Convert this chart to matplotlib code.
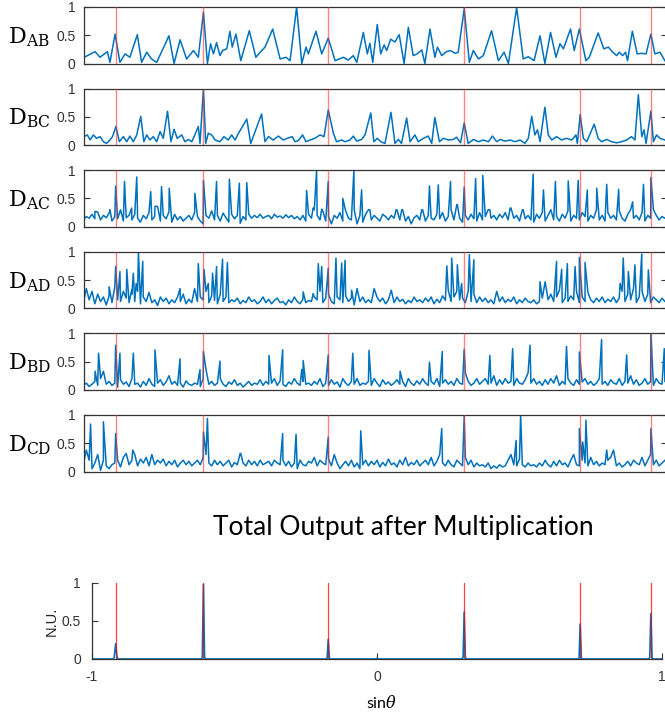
"""
Direction-finding panels: pairwise correlations D_xy and their product
"""
import numpy as np
import matplotlib.pyplot as plt

plt.rcParams['mathtext.fontset'] = 'dejavuserif'

# ---- data ----
source_sin = [-0.917, -0.609, -0.171, 0.306, 0.713, 0.961]
pair_names = ['AB', 'BC', 'AC', 'AD', 'BD', 'CD']

# smooth panels: peaks and troughs of the traces
ab_x = [-1.028, -1.016, -0.989, -0.972, -0.946, -0.937, -0.919, -0.902, -0.884, -0.867,
        -0.841, -0.826, -0.808, -0.791, -0.773, -0.762, -0.730, -0.712, -0.691, -0.668,
        -0.644, -0.627, -0.609, -0.595, -0.584, -0.574, -0.563, -0.551, -0.542, -0.527,
        -0.516, -0.508, -0.495, -0.478, -0.448, -0.425, -0.410, -0.393, -0.366, -0.340,
        -0.319, -0.305, -0.282, -0.264, -0.249, -0.241, -0.233, -0.214, -0.194, -0.171,
        -0.147, -0.118, -0.101, -0.083, -0.071, -0.048, -0.034, -0.025, -0.015, 0.001,
        0.013, 0.025, 0.034, 0.048, 0.063, 0.078, 0.095, 0.110, 0.127, 0.141,
        0.157, 0.168, 0.186, 0.203, 0.212, 0.227, 0.244, 0.258, 0.274, 0.285,
        0.306, 0.324, 0.338, 0.356, 0.373, 0.402, 0.426, 0.446, 0.461, 0.490,
        0.513, 0.531, 0.551, 0.572, 0.589, 0.609, 0.628, 0.642, 0.654, 0.679,
        0.692, 0.710, 0.733, 0.745, 0.776, 0.796, 0.812, 0.827, 0.841, 0.850,
        0.862, 0.872, 0.879, 0.896, 0.913, 0.929, 0.944, 0.961, 0.975, 0.993, 1.010]
ab_y = [0.11, 0.14, 0.21, 0.11, 0.21, 0.02, 0.52, 0.02, 0.17, 0.11,
        0.51, 0.02, 0.20, 0.08, 0.02, 0.14, 0.49, 0.00, 0.42, 0.08,
        0.23, 0.11, 0.91, 0.00, 0.35, 0.17, 0.37, 0.14, 0.23, 0.26,
        0.57, 0.29, 0.52, 0.05, 0.58, 0.11, 0.20, 0.29, 0.61, 0.08,
        0.11, 0.05, 1.00, 0.00, 0.29, 0.17, 0.29, 0.57, 0.17, 0.45,
        0.05, 0.11, 0.06, 0.14, 0.02, 0.55, 0.17, 0.36, 0.02, 0.69,
        0.17, 0.33, 0.23, 0.43, 0.38, 0.51, 0.00, 0.64, 0.14, 0.17,
        0.24, 0.00, 0.61, 0.11, 0.29, 0.14, 0.21, 0.23, 0.18, 0.20,
        0.97, 0.02, 0.23, 0.08, 0.14, 0.58, 0.05, 0.20, 0.00, 0.99,
        0.08, 0.12, 0.05, 0.49, 0.00, 0.55, 0.11, 0.35, 0.26, 0.61,
        0.23, 0.61, 0.05, 0.11, 0.54, 0.26, 0.29, 0.20, 0.14, 0.20,
        0.14, 0.20, 0.05, 0.57, 0.17, 0.18, 0.17, 0.52, 0.17, 0.20, 0.05]

bc_x = [-1.028, -1.016, -1.007, -0.995, -0.984, -0.972, -0.960, -0.949, -0.937, -0.928,
        -0.916, -0.904, -0.890, -0.878, -0.867, -0.855, -0.843, -0.829, -0.818, -0.808,
        -0.797, -0.785, -0.773, -0.761, -0.750, -0.735, -0.723, -0.712, -0.701, -0.685,
        -0.674, -0.662, -0.650, -0.639, -0.627, -0.621, -0.609, -0.601, -0.592, -0.580,
        -0.568, -0.551, -0.537, -0.522, -0.510, -0.498, -0.487, -0.457, -0.443, -0.405,
        -0.393, -0.381, -0.364, -0.346, -0.329, -0.315, -0.297, -0.288, -0.276, -0.261,
        -0.249, -0.235, -0.218, -0.200, -0.186, -0.171,
        -0.153, -0.142, -0.124, -0.112, -0.095, -0.083, -0.071, -0.054, -0.042, -0.022,
        -0.011, 0.001, 0.013, 0.028, 0.049, 0.063, 0.075, 0.086, 0.104, 0.116,
        0.133, 0.145, 0.163, 0.180, 0.192, 0.203, 0.219, 0.233, 0.250, 0.268,
        0.279, 0.293, 0.306, 0.320, 0.338, 0.356, 0.373, 0.391, 0.405, 0.420,
        0.432, 0.449, 0.467, 0.484, 0.502, 0.519, 0.531, 0.543, 0.554, 0.563,
        0.572, 0.589, 0.601, 0.613, 0.630, 0.648, 0.665, 0.683, 0.698, 0.703,
        0.713, 0.724, 0.736, 0.762, 0.776, 0.788, 0.806, 0.823, 0.841, 0.858,
        0.876, 0.893, 0.905, 0.917, 0.929, 0.937, 0.944, 0.961, 0.970, 0.981, 0.993, 1.010]
bc_y = [0.15, 0.18, 0.09, 0.18, 0.12, 0.15, 0.06, 0.03, 0.09, 0.15,
        0.33, 0.06, 0.15, 0.06, 0.16, 0.06, 0.18, 0.51, 0.06, 0.18,
        0.09, 0.15, 0.06, 0.24, 0.12, 0.60, 0.06, 0.28, 0.12, 0.18,
        0.06, 0.10, 0.06, 0.18, 0.33, 0.03, 1.00, 0.03, 0.21, 0.18,
        0.09, 0.06, 0.15, 0.09, 0.18, 0.09, 0.20, 0.46, 0.03, 0.55,
        0.06, 0.15, 0.09, 0.16, 0.09, 0.12, 0.15, 0.06, 0.08, 0.18,
        0.06, 0.09, 0.12, 0.18, 0.15, 0.62,
        0.21, 0.06, 0.09, 0.06, 0.09, 0.16, 0.07, 0.10, 0.18, 0.57,
        0.06, 0.12, 0.06, 0.03, 0.58, 0.03, 0.10, 0.03, 0.48, 0.06,
        0.18, 0.06, 0.12, 0.16, 0.03, 0.49, 0.06, 0.12, 0.09, 0.10,
        0.14, 0.04, 0.39, 0.03, 0.10, 0.06, 0.09, 0.06, 0.16, 0.06,
        0.10, 0.07, 0.09, 0.06, 0.09, 0.03, 0.12, 0.51, 0.18, 0.27,
        0.06, 0.67, 0.18, 0.09, 0.15, 0.09, 0.12, 0.09, 0.18, 0.03,
        0.54, 0.12, 0.06, 0.37, 0.12, 0.06, 0.10, 0.06, 0.04, 0.06,
        0.09, 0.15, 0.09, 0.89, 0.15, 0.27, 0.03, 0.60, 0.06, 0.18, 0.12, 0.09]

# noisy panels: floor readings every 0.01 from -1.03, plus the spikes
ac_floor = [0.12, 0.18, 0.15, 0.22, 0.14, 0.26, 0.12, 0.2, 0.16, 0.24, 0.1, 0.18, 0.14, 0.3, 0.1, 0.16, 0.2, 0.12, 0.22, 0.15,
            0.08, 0.2, 0.14, 0.25, 0.12, 0.18, 0.36, 0.1, 0.2, 0.14, 0.26, 0.08, 0.22, 0.12, 0.18, 0.1, 0.15, 0.2, 0.12, 0.25,
            0.18, 0.1, 0.05, 0.2, 0.15, 0.28, 0.12, 0.2, 0.1, 0.24, 0.16, 0.08, 0.22, 0.14, 0.2, 0.06, 0.18, 0.12, 0.22, 0.15,
            0.2, 0.16, 0.22, 0.15, 0.18, 0.2, 0.14, 0.22, 0.17, 0.19, 0.15, 0.21, 0.16, 0.2, 0.14, 0.18, 0.12, 0.2, 0.1, 0.22,
            0.15, 0.3, 0.2, 0.12, 0.28, 0.1, 0.18, 0.05, 0.2, 0.15, 0.25, 0.1, 0.28, 0.15, 0.12, 0.3, 0.05, 0.2, 0.08, 0.22,
            0.3, 0.12, 0.2, 0.15, 0.1, 0.22, 0.18, 0.12, 0.2, 0.15, 0.3, 0.12, 0.3, 0.1, 0.18, 0.05, 0.16, 0.2, 0.12, 0.3,
            0.1, 0.2, 0.15, 0.12, 0.22, 0.14, 0.25, 0.1, 0.18, 0.3, 0.12, 0.39, 0.15, 0.08, 0.2, 0.12, 0.22, 0.14, 0.1, 0.25,
            0.12, 0.18, 0.3, 0.15, 0.2, 0.12, 0.22, 0.16, 0.25, 0.12, 0.33, 0.15, 0.2, 0.1, 0.3, 0.14, 0.2, 0.12, 0.08, 0.22,
            0.15, 0.25, 0.1, 0.2, 0.3, 0.12, 0.18, 0.1, 0.22, 0.15, 0.28, 0.1, 0.2, 0.15, 0.12, 0.25, 0.18, 0.1, 0.2, 0.15,
            0.3, 0.12, 0.2, 0.1, 0.25, 0.15, 0.2, 0.12, 0.28, 0.15, 0.1, 0.22, 0.3, 0.15, 0.2, 0.12, 0.25, 0.1, 0.2, 0.15,
            0.3, 0.2, 0.12, 0.18, 0.15, 0.2]
ac_peak_x = [-0.990, -0.937, -0.917, -0.886, -0.861, -0.843, -0.794, -0.779, -0.756, -0.729,
             -0.639, -0.609, -0.563, -0.518, -0.483, -0.457, -0.247, -0.224, -0.212, -0.194,
             -0.171, -0.120, -0.081, -0.054, -0.025, 0.067, 0.087, 0.157, 0.184, 0.215,
             0.258, 0.282, 0.306, 0.346, 0.371, 0.396, 0.467, 0.513, 0.548, 0.584,
             0.626, 0.671, 0.706, 0.738, 0.771, 0.806, 0.848, 0.897, 0.935, 0.961]
ac_peak_y = [0.27, 0.30, 0.72, 0.80, 0.33, 0.88, 0.62, 0.36, 0.71, 0.68,
             0.59, 0.82, 0.80, 0.84, 0.77, 0.78, 0.64, 0.33, 1.00, 0.31,
             0.80, 0.50, 1.00, 0.65, 0.30, 0.30, 0.30, 0.30, 0.72, 0.74,
             0.80, 0.39, 0.70, 0.85, 0.91, 0.30, 0.33, 0.30, 0.93, 0.65,
             0.80, 0.81, 0.82, 0.65, 0.68, 0.75, 0.66, 0.44, 0.75, 0.87]

ad_floor = [0.1, 0.35, 0.15, 0.3, 0.08, 0.25, 0.12, 0.2, 0.06, 0.22, 0.1, 0.38, 0.15, 0.12, 0.3, 0.18, 0.1, 0.25, 0.12, 0.3,
            0.08, 0.2, 0.12, 0.28, 0.1, 0.15, 0.05, 0.2, 0.12, 0.18, 0.08, 0.15, 0.1, 0.2, 0.12, 0.25, 0.08, 0.16, 0.1, 0.35,
            0.12, 0.2, 0.15, 0.3, 0.1, 0.22, 0.14, 0.08, 0.25, 0.12, 0.2, 0.1, 0.15, 0.12, 0.18, 0.08, 0.14, 0.1, 0.2, 0.12,
            0.15, 0.08, 0.12, 0.2, 0.1, 0.16, 0.08, 0.14, 0.18, 0.1, 0.12, 0.06, 0.15, 0.1, 0.2, 0.12, 0.08, 0.16, 0.1, 0.14,
            0.12, 0.2, 0.15, 0.3, 0.1, 0.18, 0.25, 0.12, 0.08, 0.2, 0.15, 0.1, 0.22, 0.12, 0.18, 0.06, 0.35, 0.12, 0.2, 0.1,
            0.15, 0.1, 0.35, 0.2, 0.12, 0.18, 0.08, 0.15, 0.32, 0.1, 0.2, 0.12, 0.16, 0.08, 0.14, 0.1, 0.2, 0.12, 0.15, 0.1,
            0.18, 0.12, 0.2, 0.08, 0.16, 0.1, 0.22, 0.14, 0.32, 0.12, 0.2, 0.3, 0.15, 0.18, 0.1, 0.3, 0.12, 0.25, 0.1, 0.2,
            0.12, 0.18, 0.1, 0.15, 0.08, 0.3, 0.12, 0.2, 0.1, 0.16, 0.12, 0.2, 0.08, 0.15, 0.1, 0.18, 0.12, 0.1, 0.15, 0.08,
            0.12, 0.18, 0.47, 0.15, 0.25, 0.12, 0.2, 0.32, 0.1, 0.18, 0.12, 0.22, 0.15, 0.3, 0.1, 0.2, 0.12, 0.28, 0.15, 0.1,
            0.18, 0.12, 0.2, 0.1, 0.16, 0.12, 0.2, 0.1, 0.18, 0.3, 0.12, 0.25, 0.15, 0.35, 0.1, 0.2, 0.3, 0.12, 0.25, 0.1,
            0.2, 0.15, 0.1, 0.18, 0.12, 0.15]
ad_peak_x = [-0.940, -0.917, -0.902, -0.878, -0.861, -0.855, -0.845, -0.837, -0.822, -0.691,
             -0.627, -0.607, -0.592, -0.577, -0.563, -0.542, -0.525, -0.259, -0.224, -0.206,
             -0.194, -0.171, -0.144, -0.124, -0.112, -0.089, 0.245, 0.262, 0.282, 0.297,
             0.324, 0.340, 0.572, 0.595, 0.630, 0.648, 0.668, 0.695, 0.710, 0.730,
             0.853, 0.864, 0.882, 0.905, 0.929, 0.952]
ad_peak_y = [0.38, 0.74, 0.65, 0.69, 0.32, 0.62, 0.44, 1.00, 0.83, 0.35,
             0.79, 0.69, 0.44, 0.62, 0.74, 0.87, 0.81, 0.29, 0.26, 0.79,
             0.74, 0.71, 0.89, 0.80, 0.85, 0.32, 0.75, 0.89, 0.77, 0.44,
             0.95, 0.86, 0.47, 0.32, 0.83, 0.69, 0.79, 0.74, 0.90, 0.81,
             0.44, 0.89, 0.65, 0.77, 0.96, 0.68]

bd_floor = [0.08, 0.12, 0.06, 0.1, 0.15, 0.08, 0.2, 0.33, 0.1, 0.15, 0.08, 0.12, 0.05, 0.18, 0.1, 0.14, 0.06, 0.2, 0.1, 0.12,
            0.05, 0.15, 0.08, 0.2, 0.1, 0.06, 0.12, 0.18, 0.08, 0.14, 0.25, 0.1, 0.15, 0.08, 0.12, 0.05, 0.16, 0.1, 0.08, 0.12,
            0.1, 0.06, 0.2, 0.36, 0.1, 0.15, 0.08, 0.12, 0.2, 0.1, 0.06, 0.14, 0.1, 0.18, 0.08, 0.12, 0.05, 0.1, 0.15, 0.08,
            0.12, 0.1, 0.18, 0.08, 0.15, 0.1, 0.12, 0.2, 0.08, 0.16, 0.1, 0.06, 0.14, 0.1, 0.2, 0.12, 0.08, 0.15, 0.1, 0.12,
            0.08, 0.15, 0.1, 0.2, 0.06, 0.12, 0.08, 0.18, 0.1, 0.14, 0.05, 0.2, 0.12, 0.08, 0.15, 0.1, 0.2, 0.08, 0.12, 0.1,
            0.15, 0.08, 0.2, 0.12, 0.06, 0.18, 0.1, 0.14, 0.08, 0.12, 0.18, 0.1, 0.15, 0.06, 0.2, 0.12, 0.08, 0.16, 0.1, 0.2,
            0.12, 0.08, 0.15, 0.1, 0.2, 0.06, 0.12, 0.18, 0.1, 0.15, 0.08, 0.2, 0.12, 0.1, 0.3, 0.15, 0.08, 0.12, 0.2, 0.1,
            0.15, 0.2, 0.1, 0.12, 0.25, 0.08, 0.18, 0.1, 0.2, 0.12, 0.15, 0.08, 0.2, 0.12, 0.1, 0.18, 0.3, 0.12, 0.2, 0.1,
            0.15, 0.08, 0.18, 0.1, 0.2, 0.12, 0.25, 0.08, 0.15, 0.1, 0.2, 0.12, 0.08, 0.18, 0.1, 0.14, 0.2, 0.1, 0.15, 0.08,
            0.12, 0.2, 0.1, 0.15, 0.08, 0.18, 0.12, 0.1, 0.2, 0.08, 0.15, 0.12, 0.25, 0.1, 0.18, 0.08, 0.12, 0.2, 0.1, 0.15,
            0.08, 0.2, 0.12, 0.1, 0.15, 0.1]
bd_peak_x = [-0.989, -0.977, -0.917, -0.902, -0.855, -0.779, -0.691, -0.621, -0.609, -0.551,
             -0.379, -0.331, -0.264, -0.259, -0.171, -0.085, -0.028, 0.081, 0.184, 0.229,
             0.306, 0.396, 0.476, 0.537, 0.665, 0.710, 0.788, 0.876, 0.961, 1.008]
bd_peak_y = [0.33, 0.65, 0.79, 0.65, 0.65, 0.71, 0.55, 0.36, 0.68, 0.51,
             0.61, 0.71, 0.36, 0.52, 0.62, 0.65, 0.70, 0.33, 0.49, 0.68,
             0.72, 0.61, 0.73, 0.79, 0.77, 0.67, 0.89, 0.62, 1.00, 0.73]

cd_floor = [0.14, 0.38, 0.2, 0.05, 0.15, 0.3, 0.02, 0.2, 0.1, 0.05, 0.12, 0.15, 0.2, 0.08, 0.25, 0.32, 0.12, 0.2, 0.3, 0.1,
            0.22, 0.15, 0.25, 0.1, 0.3, 0.12, 0.2, 0.15, 0.22, 0.1, 0.18, 0.12, 0.2, 0.08, 0.15, 0.2, 0.12, 0.18, 0.1, 0.15,
            0.2, 0.12, 0.25, 0.3, 0.15, 0.1, 0.2, 0.12, 0.18, 0.1, 0.15, 0.2, 0.08, 0.16, 0.12, 0.32, 0.15, 0.1, 0.2, 0.12,
            0.18, 0.1, 0.2, 0.12, 0.15, 0.18, 0.1, 0.2, 0.15, 0.12, 0.2, 0.1, 0.18, 0.08, 0.15, 0.05, 0.2, 0.12, 0.1, 0.18,
            0.15, 0.25, 0.1, 0.2, 0.15, 0.12, 0.22, 0.1, 0.3, 0.15, 0.05, 0.12, 0.18, 0.1, 0.2, 0.08, 0.15, 0.05, 0.12, 0.2,
            0.1, 0.18, 0.12, 0.2, 0.08, 0.16, 0.1, 0.22, 0.12, 0.15, 0.08, 0.2, 0.12, 0.25, 0.1, 0.16, 0.12, 0.2, 0.1, 0.15,
            0.2, 0.12, 0.25, 0.1, 0.18, 0.3, 0.15, 0.1, 0.2, 0.12, 0.08, 0.2, 0.15, 0.1, 0.25, 0.12, 0.2, 0.08, 0.15, 0.1,
            0.12, 0.08, 0.15, 0.05, 0.1, 0.06, 0.12, 0.08, 0.1, 0.2, 0.3, 0.12, 0.1, 0.22, 0.12, 0.08, 0.15, 0.1, 0.12, 0.08,
            0.15, 0.1, 0.2, 0.12, 0.08, 0.18, 0.1, 0.2, 0.12, 0.15, 0.08, 0.2, 0.3, 0.12, 0.1, 0.2, 0.15, 0.1, 0.25, 0.12,
            0.18, 0.1, 0.15, 0.12, 0.2, 0.25, 0.38, 0.1, 0.15, 0.08, 0.12, 0.18, 0.1, 0.2, 0.15, 0.12, 0.25, 0.1, 0.2, 0.3,
            0.12, 0.2, 0.1, 0.15, 0.2, 0.12]
cd_peak_x = [-1.005, -0.960, -0.917, -0.857, -0.609, -0.595, -0.478, -0.331, -0.284, -0.171,
             -0.057, 0.227, 0.306, 0.488, 0.504, 0.710, 0.722, 0.733, 0.806, 0.961]
cd_peak_y = [0.84, 0.88, 0.67, 0.38, 0.70, 0.94, 0.32, 0.67, 0.66, 0.61,
             0.72, 0.76, 0.98, 0.55, 1.00, 0.76, 0.52, 0.91, 0.38, 0.76]

# product of all six
total_x = [-1.0, -0.927, -0.922, -0.917, -0.912, -0.907, -0.617, -0.613, -0.609, -0.605, -0.601,
           -0.179, -0.175, -0.171, -0.167, -0.163, -0.006, 0.0, 0.006, 0.298, 0.302, 0.306, 0.310,
           0.314, 0.705, 0.709, 0.713, 0.717, 0.721, 0.953, 0.957, 0.961, 0.965, 0.969, 1.0]
total_y = [0, 0, 0.02, 0.20, 0.02, 0, 0, 0.02, 0.98, 0.02, 0,
           0, 0.01, 0.26, 0.01, 0, 0, 0.01, 0, 0, 0.02, 0.62, 0.02,
           0, 0, 0.01, 0.46, 0.01, 0, 0, 0.02, 0.60, 0.02, 0, 0]


def with_spikes(floor, peak_x, peak_y):
    gx = -1.03 + 0.01 * np.arange(len(floor))
    x = np.concatenate([gx, peak_x])
    y = np.concatenate([floor, peak_y])
    order = np.argsort(x, kind='stable')
    return x[order], y[order]


traces = [
    (np.array(ab_x), np.array(ab_y)),
    (np.array(bc_x), np.array(bc_y)),
    with_spikes(ac_floor, ac_peak_x, ac_peak_y),
    with_spikes(ad_floor, ad_peak_x, ad_peak_y),
    with_spikes(bd_floor, bd_peak_x, bd_peak_y),
    with_spikes(cd_floor, cd_peak_x, cd_peak_y),
]

# ---- layout (pixel boxes on a 665x715 canvas) ----
W, H = 665, 715
fig = plt.figure(figsize=(W / 100, H / 100), dpi=100)

def px_axes(left, top, right, bottom):
    return fig.add_axes([left / W, 1 - bottom / H, (right - left) / W, (bottom - top) / H])

blue = '#0072BD'
axis_col = '#333333'
# bottom plot maps -1..1 onto px 92..662 -> top plots share that scale
bx0, bx1 = 92, 662
scale = (bx1 - bx0) / 2.0
cx = (bx0 + bx1) / 2.0
tl, tr = 84, 667
top_xlim = ((tl - cx) / scale, (tr - cx) / scale)

for i, (name, (x, y)) in enumerate(zip(pair_names, traces)):
    top = 7 + i * 81.6
    ax = px_axes(tl, top, tr, top + 56.5)
    ax.plot(x, y, color=blue, lw=1.1, zorder=2)
    for s in source_sin:
        ax.axvline(s, color='#ff3030', lw=1.0, alpha=0.6, zorder=3)
    ax.set_xlim(*top_xlim)
    ax.set_ylim(0, 1)
    ax.set_xticks([])
    ax.set_yticks([0, 0.5, 1])
    ax.set_yticklabels(['0', '0.5', '1'])
    ax.tick_params(axis='y', direction='in', length=4, width=0.8, right=True,
                   labelsize=10, pad=6, colors=axis_col)
    for lab in ax.get_yticklabels():
        lab.set_family('Liberation Sans')
    for sp in ax.spines.values():
        sp.set_color(axis_col)
        sp.set_linewidth(0.9)
    fig.text(8 / W, 1 - (top + 30) / H, r'$\mathrm{D}_{\mathrm{%s}}$' % name,
             ha='left', va='center', fontsize=16)

fig.text(403 / W, 1 - 528 / H, 'Total Output after Multiplication',
         ha='center', va='center', fontsize=19, family='Lato')

ax = px_axes(bx0, 583, bx1, 659)
ax.plot(total_x, total_y, color=blue, lw=1.2, zorder=2)
for s in source_sin:
    ax.axvline(s, color='#ff0000', lw=0.9, alpha=0.75, zorder=3)
ax.set_xlim(-1, 1)
ax.set_ylim(0, 1)
ax.set_xticks([-1, 0, 1])
ax.set_xticklabels(['-1', '0', '1'])
ax.set_yticks([0, 0.5, 1])
ax.set_yticklabels(['0', '0.5', '1'])
ax.tick_params(direction='in', length=4, width=0.8, labelsize=10, pad=8, colors=axis_col)
for lab in ax.get_xticklabels() + ax.get_yticklabels():
    lab.set_family('Liberation Sans')
ax.spines['top'].set_visible(False)
ax.spines['right'].set_visible(False)
for sp in ('left', 'bottom'):
    ax.spines[sp].set_color(axis_col)
    ax.spines[sp].set_linewidth(0.9)

fig.text(52 / W, 1 - 621 / H, 'N.U.', rotation=90, ha='center', va='center',
         fontsize=10.5, family='Liberation Sans', color='#222222')
fig.text(382 / W, 1 - 703 / H, r'sin$\theta$', ha='center', va='center',
         fontsize=11.5, family='Lato')

fig.savefig('out.png', dpi=100, facecolor='white')
